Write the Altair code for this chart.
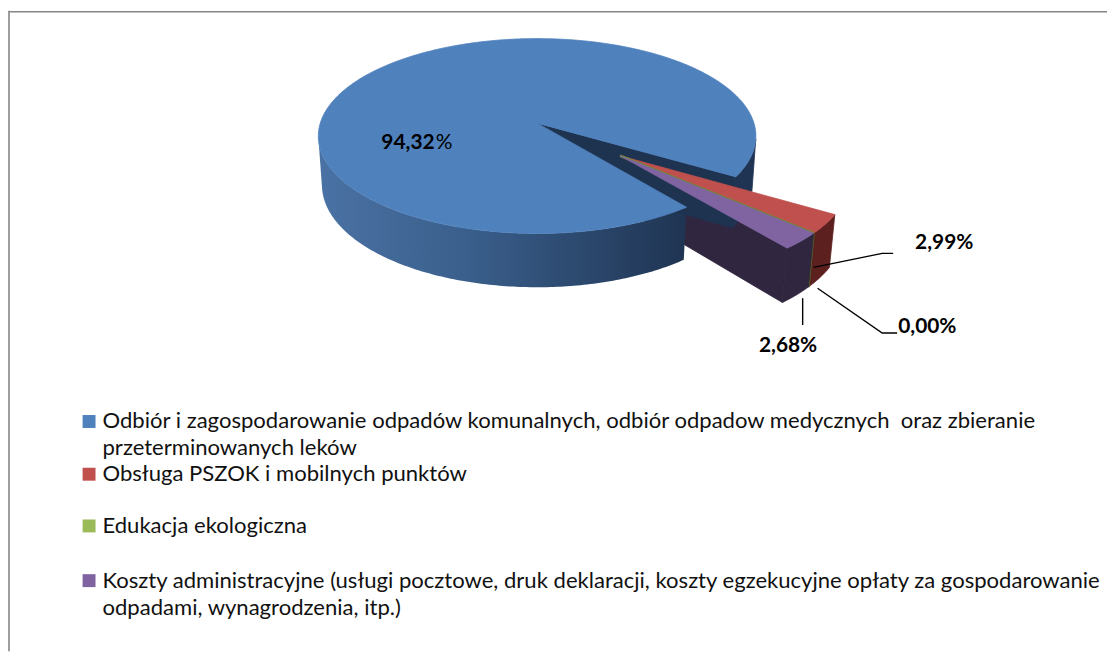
import math
import numpy as np
import pandas as pd
import altair as alt

# ---------------- data ----------------
categories = [
    "Odbiór i zagospodarowanie odpadów komunalnych, odbiór odpadow medycznych  oraz zbieranie przeterminowanych leków",
    "Obsługa PSZOK i mobilnych punktów",
    "Edukacja ekologiczna",
    "Koszty administracyjne (usługi pocztowe, druk deklaracji, koszty egzekucyjne opłaty za gospodarowanie odpadami, wynagrodzenia, itp.)",
]
values = [94.32, 2.99, 0.00, 2.68]
value_labels = ["94,32%", "2,99%", "0,00%", "2,68%"]
legend_lines = [
    ["Odbiór i zagospodarowanie odpadów komunalnych, odbiór odpadow medycznych \u00a0oraz zbieranie",
     "przeterminowanych leków"],
    ["Obsługa PSZOK i mobilnych punktów"],
    ["Edukacja ekologiczna"],
    ["Koszty administracyjne (usługi pocztowe, druk deklaracji, koszty egzekucyjne opłaty za gospodarowanie",
     "odpadami, wynagrodzenia, itp.)"],
]

# ---------------- styles / layout ----------------
top_colors = ["#4f81bd", "#c0504d", "#6f8a35", "#8064a2"]
side_colors = ["#1f3452", "#5c201f", "#4f6228", "#31263f"]
legend_colors = ["#4f81bd", "#c0504d", "#9bbb59", "#8064a2"]
exploded = [0, 1, 1, 1]

W, H = 1105, 645
CX, CY = 532.0, 114.0
FOCAL = 1476.0
DIST = 6.77
ELEV = math.radians(26.2)
DEPTH = 0.2536
EXPLODE_DIST = 0.49
FIRST_ANGLE = 51.9

label_pos = [(429, 140), (912, 241), (895, 325), (755, 344)]
leaders = [
    [(890, 245), (879, 245), (810, 259)],
    [(894, 325), (879, 325), (814, 280)],
    [(799, 290), (799, 317)],
]
legend_y = [[414, 441], [467], [519], [574, 602]]
LEG_SQ_X, LEG_TX_X = 81.5, 95
FONT = "Lato"
LEG_FS = 22.2

xs = alt.Scale(domain=[0, W], nice=False, zero=False)
ys = alt.Scale(domain=[0, H], nice=False, zero=False, reverse=True)

sa, ca = math.sin(ELEV), math.cos(ELEV)


def proj(X, Z, h):
    w = DIST - (Z * ca + h * sa)
    return CX + FOCAL * X / w, CY - FOCAL * (h * ca - Z * sa) / w


def rim(t, E, h):
    r = math.radians(t)
    return proj(math.cos(r) + E[0], math.sin(r) + E[1], h)


def arc(ta, tb, E, h):
    n = max(3, int(abs(tb - ta) / 0.8) + 2)
    return [rim(t, E, h) for t in np.linspace(ta, tb, n)]


# slice angles
total = sum(values)
spans = [v / total * 360.0 for v in values]
starts = [FIRST_ANGLE + sum(spans[:i]) for i in range(len(values))]
ex_idx = [i for i, e in enumerate(exploded) if e]
m = math.radians((starts[ex_idx[0]] + starts[ex_idx[-1]] + spans[ex_idx[-1]]) / 2.0)
offsets = [(EXPLODE_DIST * math.cos(m), EXPLODE_DIST * math.sin(m)) if e else (0.0, 0.0)
           for e in exploded]
tv = math.degrees(math.asin(1.0 / (DIST * ca)))


def vis(a, b):
    out = []
    for k in range(-1, 3):
        lo, hi = tv + 360 * k, 180 - tv + 360 * k
        s, e = max(a, lo), min(b, hi)
        if e > s:
            out.append((s, e))
    return out


def frame(pts, closed=True):
    if closed:
        pts = pts + [pts[0]]
    return pd.DataFrame({"x": [p[0] for p in pts], "y": [p[1] for p in pts],
                         "ord": list(range(len(pts)))})


def poly_layer(pts, fill, stroke=None, sw=0.8, closed=True):
    kw = dict(fill=fill, stroke=stroke or fill, strokeWidth=sw)
    return alt.Chart(frame(pts, closed)).mark_line(**kw).encode(
        x=alt.X("x:Q", scale=xs, axis=None),
        y=alt.Y("y:Q", scale=ys, axis=None),
        order="ord:Q",
    )


def line_layer(pts, color, sw):
    return alt.Chart(frame(pts, False)).mark_line(stroke=color, strokeWidth=sw).encode(
        x=alt.X("x:Q", scale=xs, axis=None),
        y=alt.Y("y:Q", scale=ys, axis=None),
        order="ord:Q",
    )


layers = []
# stage A: cut faces of exploded slices (behind the main slice)
for i in ex_idx:
    E = offsets[i]
    t_end = starts[i] + spans[i]
    nxt = (i + 1) % len(values)
    if exploded[nxt] == 0 and spans[i] > 0:
        c0 = proj(E[0], E[1], 0)
        c1 = proj(E[0], E[1], -DEPTH)
        pts = [c0, rim(t_end, E, 0), rim(t_end, E, -DEPTH), c1]
        layers.append(poly_layer(pts, side_colors[i]))

# stage B: main slice
E0 = offsets[0]
b0, b1 = starts[0], starts[0] + spans[0]
grad = alt.Gradient(gradient="linear", x1=0, x2=1, y1=0, y2=0, stops=[
    alt.GradientStop(color="#4a72a4", offset=0),
    alt.GradientStop(color="#3a5f8c", offset=0.4),
    alt.GradientStop(color="#1f3452", offset=1)])
for (s, e) in vis(b0, b1):
    pts = arc(s, e, E0, 0) + arc(e, s, E0, -DEPTH)
    if e <= 180:
        layers.append(alt.Chart(frame(pts)).mark_line(fill=grad, strokeWidth=0).encode(
            x=alt.X("x:Q", scale=xs, axis=None), y=alt.Y("y:Q", scale=ys, axis=None),
            order="ord:Q"))
    else:
        layers.append(poly_layer(pts, side_colors[0]))
# visible cut face at the end edge of main slice
c0 = proj(E0[0], E0[1], 0)
c1 = proj(E0[0], E0[1], -DEPTH)
layers.append(poly_layer([c0, rim(b1, E0, 0), rim(b1, E0, -DEPTH), c1], "#1e3350"))
layers.append(poly_layer([c0] + arc(b0, b1, E0, 0), top_colors[0]))

# stage C: exploded slices walls & tops
for i in ex_idx:
    E = offsets[i]
    s0, s1 = starts[i], starts[i] + spans[i]
    apex = proj(E[0], E[1], 0)
    if spans[i] > 0.05:
        for (s, e) in vis(s0, s1):
            layers.append(poly_layer(arc(s, e, E, 0) + arc(e, s, E, -DEPTH), side_colors[i]))
        layers.append(poly_layer([apex] + arc(s0, s1, E, 0), top_colors[i]))
    else:
        layers.append(line_layer([rim(s0, E, 0), rim(s0, E, -DEPTH)], side_colors[i], 2.5))
        layers.append(line_layer([apex, rim(s0, E, 0)], top_colors[i], 2.5))

# leader lines
for ld in leaders:
    layers.append(line_layer(ld, "#000000", 1.4))

# data labels
lab_df = pd.DataFrame({"x": [p[0] for p in label_pos], "y": [p[1] for p in label_pos],
                       "txt": value_labels})
main_df = pd.DataFrame({"x": [label_pos[0][0]], "y": [label_pos[0][1]],
                        "num": [value_labels[0].rstrip("%")], "pct": ["%"]})
layers.append(alt.Chart(main_df).mark_text(font=FONT, fontSize=21, fontWeight="bold",
                                           align="right", baseline="alphabetic", color="#000").encode(
    x=alt.X("x:Q", scale=xs), y=alt.Y("y:Q", scale=ys), text="num:N"))
layers.append(alt.Chart(main_df).mark_text(font=FONT, fontSize=21, align="left",
                                           baseline="alphabetic", color="#000", dx=1).encode(
    x=alt.X("x:Q", scale=xs), y=alt.Y("y:Q", scale=ys), text="pct:N"))
layers.append(alt.Chart(lab_df.iloc[1:]).mark_text(font=FONT, fontSize=21, fontWeight="bold",
                                                  align="left", baseline="alphabetic", color="#000").encode(
    x=alt.X("x:Q", scale=xs), y=alt.Y("y:Q", scale=ys), text="txt:N"))

# legend
leg_sq = pd.DataFrame({"y": [ly[0] for ly in legend_y], "col": legend_colors, "cat": categories})
layers.append(alt.Chart(leg_sq).mark_square(size=169, opacity=1).encode(
    x=alt.value(LEG_SQ_X), y=alt.Y("y:Q", scale=ys),
    color=alt.Color("col:N", scale=None)))
leg_rows = []
for lines, yy in zip(legend_lines, legend_y):
    for t, y in zip(lines, yy):
        leg_rows.append({"t": t, "y": y})
layers.append(alt.Chart(pd.DataFrame(leg_rows)).mark_text(
    font=FONT, fontSize=LEG_FS, align="left", baseline="middle", color="#111").encode(
    x=alt.value(LEG_TX_X), y=alt.Y("y:Q", scale=ys), text="t:N"))

# chart frame (left and top edges)
layers.append(alt.Chart(pd.DataFrame({"a": [0]})).mark_rule(color="#868686", strokeWidth=1.6).encode(
    x=alt.value(1), y=alt.value(1), y2=alt.value(H)))
layers.append(alt.Chart(pd.DataFrame({"a": [0]})).mark_rule(color="#868686", strokeWidth=1.6).encode(
    x=alt.value(1), x2=alt.value(W), y=alt.value(2)))

chart = alt.layer(*layers).properties(
    width=W, height=H, padding=0, autosize=alt.AutoSizeParams(type="none")
).configure_view(strokeWidth=0)

chart.save("out.html", embed_options={"renderer": "svg", "actions": False})
